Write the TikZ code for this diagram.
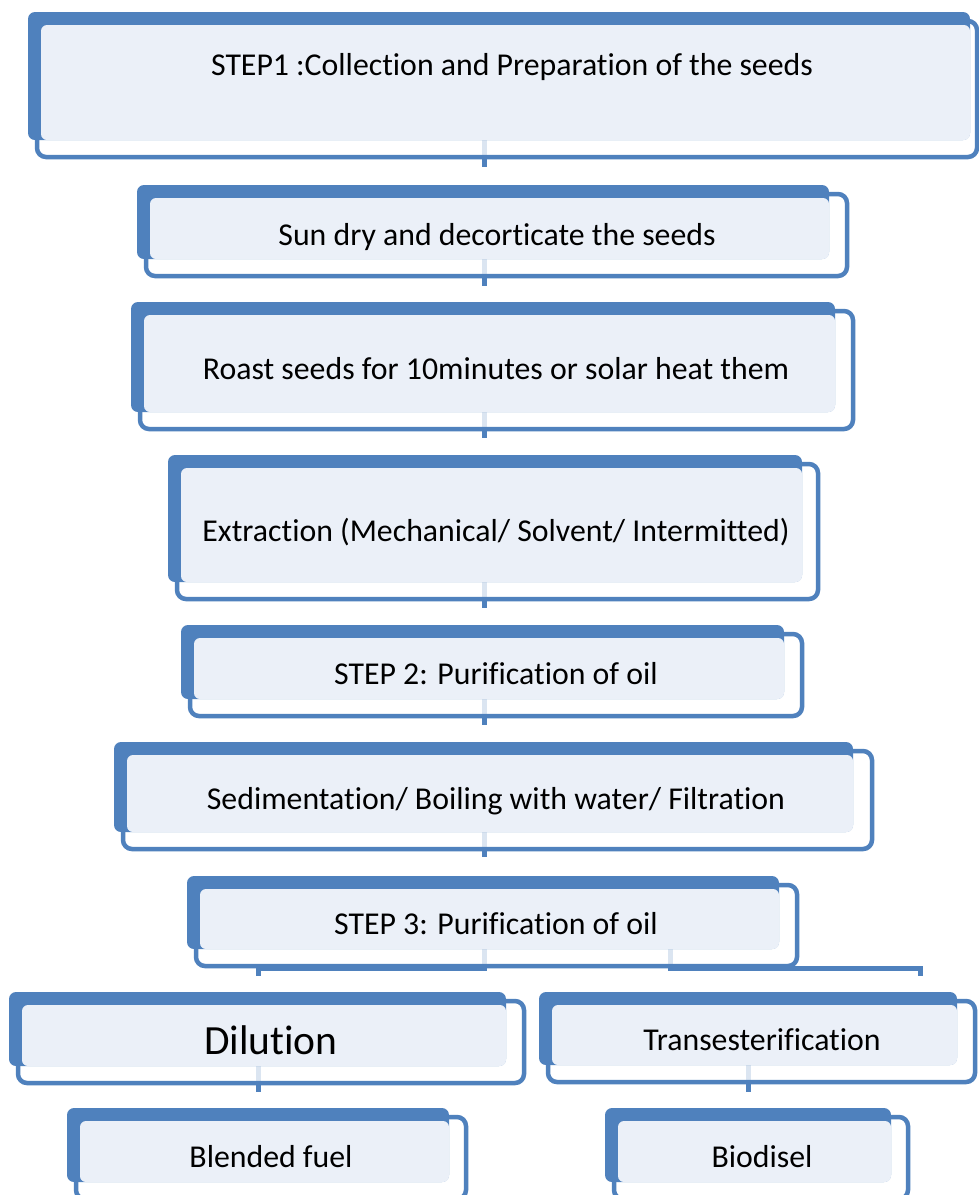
\documentclass[tikz,border=0pt]{standalone}
\usepackage{fontspec}
\setmainfont{Carlito}[RawFeature={-liga;-clig;-dlig;-calt;-rlig}]
\usetikzlibrary{fit}
\pgfdeclarelayer{paper}
\pgfdeclarelayer{links}
\pgfsetlayers{paper,links,main}
\definecolor{bblue}{HTML}{4F81BD}
\definecolor{lfill}{HTML}{EBF0F8}
\tikzset{
  backshape/.style={fill=bblue, rounded corners=7pt},
  outshape/.style={draw=bblue, line width=4.5pt, fill=white, fill opacity=0.8, rounded corners=9pt},
  lightshape/.style={fill=lfill, rounded corners=6pt, inner sep=0pt, outer sep=0pt},
  conn/.style={draw=bblue, line width=5pt},
  lbl/.style={anchor=base, font=\fontsize{31.8}{36}\selectfont, inner sep=0pt, text=black},
  biglbl/.style={anchor=base, font=\fontsize{41.5}{48}\selectfont, inner sep=0pt, text=black},
}
% #1 name, #2 x0, #3 y0, #4 x1, #5 y1, #6 outline right edge
\newcommand\stepframe[6]{%
  \path[outshape] ({#2+9},{#3+9}) rectangle (#6,{#5+17});
  \path[backshape] (#2,#3) rectangle (#4,#5);
  \node[lightshape, fit={({#2+13},{#3+13}) (#4,#5)}] (#1) {};
}
\begin{document}
\begin{tikzpicture}[x=1pt,y=-1pt]
\useasboundingbox (0,0) rectangle (979,1195);
\begin{pgfonlayer}{paper}
  \fill[white] (0,0) rectangle (979,1195);
\end{pgfonlayer}

% boxes
\stepframe{s1}{28}{12}{970}{140}{977}
\stepframe{s2}{137}{185}{829}{259}{847}
\stepframe{s3}{131}{302}{835}{412}{853}
\stepframe{s4}{168}{455}{802}{582}{818}
\stepframe{s5}{181}{625}{784}{699}{802}
\stepframe{s6}{114}{742}{853}{832}{872}
\stepframe{s7}{187}{876}{779}{949}{797}
\stepframe{s8}{9}{992}{506}{1066}{524}
\stepframe{s9}{539}{992}{957}{1065}{975}
\stepframe{s10}{67}{1108}{449}{1182}{466}
\stepframe{s11}{605}{1108}{891}{1182}{908}

% labels
\node[lbl] (t1) at (512,75) {STEP1 :Collection and Preparation of the seeds};
\node[lbl] (t2) at (497,245) {Sun dry and decorticate the seeds};
\node[lbl] (t3) at (496,379) {Roast seeds for 10minutes or solar heat them};
\node[lbl] (t4) at (496,541) {Extraction (Mechanical/ Solvent/ Intermitted)};
\node[lbl] (t5) at (496,684) {STEP 2: Purification of oil};
\node[lbl] (t6) at (496,809) {Sedimentation/ Boiling with water/ Filtration};
\node[lbl] (t7) at (496,934) {STEP 3: Purification of oil};
\node[biglbl] (t8) at (271,1054) {Dilution};
\node[lbl] (t9) at (762,1050) {Transesterification};
\node[lbl] (t10) at (271,1167) {Blended fuel};
\node[lbl] (t11) at (762,1167) {Biodisel};

% connector end points
\coordinate (c12) at (484,167);
\coordinate (c23) at (484,286);
\coordinate (c34) at (484,438);
\coordinate (c45) at (484,608);
\coordinate (c56) at (484,725);
\coordinate (c67) at (484,857);
\coordinate (xa) at (484,0);
\coordinate (xb) at (670,0);
\coordinate (bl) at (258,976);
\coordinate (br) at (920,976);
\coordinate (d1) at (258,1092);
\coordinate (d2) at (748,1092);

\begin{pgfonlayer}{links}
  \draw[conn] (s1.south -| c12) -- (c12);
  \draw[conn] (s2.south -| c23) -- (c23);
  \draw[conn] (s3.south -| c34) -- (c34);
  \draw[conn] (s4.south -| c45) -- (c45);
  \draw[conn] (s5.south -| c56) -- (c56);
  \draw[conn] (s6.south -| c67) -- (c67);
  \draw[conn] (s7.south -| xa) -- ++(0,19) -| (bl);
  \draw[conn] (s7.south -| xb) -- ++(0,19) -| (br);
  \draw[conn] (s8.south -| d1) -- (d1);
  \draw[conn] (s9.south -| d2) -- (d2);
\end{pgfonlayer}
\end{tikzpicture}
\end{document}
